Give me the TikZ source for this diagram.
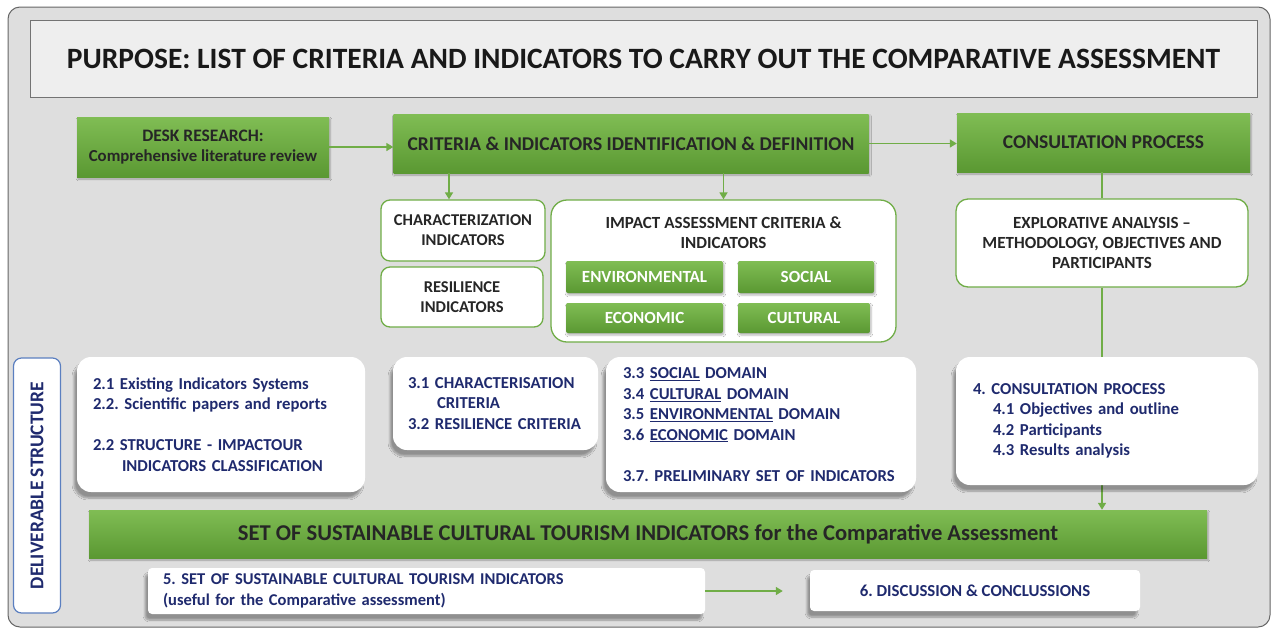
\documentclass[tikz,border=0pt]{standalone}
\usepackage{fontspec}
\setmainfont{Carlito}
\usetikzlibrary{arrows.meta,positioning,shadows,shadows.blur}
\definecolor{panelgray}{RGB}{222,222,222}
\definecolor{titlegray}{RGB}{238,238,238}
\definecolor{leafgreen}{RGB}{112,173,71}
\definecolor{greentop}{RGB}{128,189,84}
\definecolor{greenbot}{RGB}{90,152,50}
\definecolor{inkblue}{RGB}{31,42,110}
\definecolor{steelblue}{RGB}{91,127,192}
\frenchspacing

\begin{document}
\begin{tikzpicture}[
  x=1pt,y=-1pt,
  panel/.style={fill=panelgray,draw=black!60,line width=1pt,rounded corners=12pt},
  titlebox/.style={
    draw=black!55,
    fill=titlegray,
    line width=0.9pt,
    minimum width=1227pt,
    minimum height=77pt,
    text=black!90,
    font=\bfseries\fontsize{29.5}{34}\selectfont
  },
  greenbox/.style={
    top color=greentop,
    bottom color=greenbot,
    inner sep=0pt,
    align=center,
    text=black!85,
    font=\bfseries\fontsize{19.5}{23}\selectfont,
    blur shadow={shadow xshift=1pt,shadow yshift=-2pt,shadow blur steps=4,shadow opacity=30}
  },
  tagbox/.style={greenbox,rounded corners=2pt,text=white,font=\bfseries\fontsize{17}{20}\selectfont},
  framebox/.style={
    draw=leafgreen,
    fill=white,
    line width=1.3pt,
    rounded corners=9pt,
    inner sep=0pt,
    align=center,
    text=black!85,
    font=\bfseries\fontsize{16.5}{20}\selectfont
  },
  notebox/.style={
    fill=white,
    rounded corners=14pt,
    inner xsep=16pt,
    inner ysep=0pt,
    align=left,
    text=inkblue,
    font=\bfseries\fontsize{16.7}{20.5}\selectfont,
    blur shadow={shadow xshift=-3pt,shadow yshift=-6pt,shadow blur steps=8,shadow opacity=35}
  },
  flow/.style={-{Triangle[length=7pt,width=8pt]},line width=1.6pt,draw=leafgreen},
  tie/.style={line width=1.6pt,draw=leafgreen}
]
\fill[white] (0,0) rectangle (1274,630);
\useasboundingbox (0,0) rectangle (1274,630);
\draw[panel] (8,7) rectangle (1270,627);

\node[titlebox] (purpose) at (643.5,58.5)
  {PURPOSE: LIST OF CRITERIA AND INDICATORS TO CARRY OUT THE COMPARATIVE ASSESSMENT};

% top row of process steps
\node[greenbox,minimum width=252pt,minimum height=60pt,font=\bfseries\fontsize{17.5}{20}\selectfont] (desk) at (203,147)
  {DESK RESEARCH:\\{\fontsize{16.8}{20}\selectfont Comprehensive literature review}};
\node[greenbox,minimum width=475pt,minimum height=59pt] (crit) at (631,143.5)
  {CRITERIA \& INDICATORS IDENTIFICATION \& DEFINITION};
\node[greenbox,minimum width=293pt,minimum height=59pt] (consult) at (1103.5,142.5)
  {CONSULTATION PROCESS};
\draw[flow] (desk.east) -- (desk.east -| crit.west);
\draw[flow] (crit.east) -- (crit.east -| consult.west);

% indicator groups
\node[framebox,minimum width=164pt,minimum height=61pt] (charind) at (463,230.5)
  {CHARACTERIZATION\\INDICATORS};
\node[framebox,minimum width=162pt,minimum height=60pt] (resind) at (462,297)
  {RESILIENCE\\INDICATORS};
\node[framebox,rounded corners=16pt,minimum width=345pt,minimum height=142pt] (impact) at (723.5,271) {};
\node[align=center,text=black!85,font=\bfseries\fontsize{17}{20}\selectfont] (impacttitle)
  at (723.5,233) {IMPACT ASSESSMENT CRITERIA \&\\INDICATORS};
\node[tagbox,minimum width=157pt,minimum height=32pt] (env) at (644.5,277) {ENVIRONMENTAL};
\node[tagbox,minimum width=136pt,minimum height=32pt] (soc) at (806,277) {SOCIAL};
\node[tagbox,minimum width=157pt,minimum height=30pt] (eco) at (644.5,318) {ECONOMIC};
\node[tagbox,minimum width=132pt,minimum height=30pt] (cul) at (804,318) {CULTURAL};
\draw[flow] ([xshift=-14pt]charind.north |- crit.south) -- ([xshift=-14pt]charind.north);
\draw[flow] (impact.north |- crit.south) -- (impact.north);

\node[framebox,rounded corners=12pt,minimum width=292pt,minimum height=88pt,font=\bfseries\fontsize{17}{20}\selectfont] (explor) at (1102,243)
  {EXPLORATIVE ANALYSIS --\\METHODOLOGY, OBJECTIVES AND\\PARTICIPANTS};
\draw[tie] (explor.north |- consult.south) -- (explor.north);

% deliverable structure
\node[draw=steelblue,fill=white,line width=1.2pt,rounded corners=8pt,rotate=90,
  minimum width=255pt,minimum height=47pt,text=inkblue,
  font=\bfseries\fontsize{19.5}{22}\selectfont] (deliv) at (37,485.5) {DELIVERABLE STRUCTURE};

\node[notebox,text width=256pt,minimum height=135pt] (sec2) at (221,424.5)
  {2.1 Existing Indicators Systems\\
   2.2. Scientific papers and reports\\[20.5pt]
   2.2 STRUCTURE - IMPACTOUR\\
   \hspace*{29pt}INDICATORS CLASSIFICATION};
\node[notebox,inner xsep=15pt,text width=175pt,minimum height=93pt] (sec31) at (495.5,403.5)
  {3.1 CHARACTERISATION\\
   \hspace*{29pt}CRITERIA\\
   3.2 RESILIENCE CRITERIA};
\node[notebox,inner xsep=17pt,text width=276pt,minimum height=135pt] (sec33) at (761,424.5)
  {3.3 \underline{SOCIAL} DOMAIN\\
   3.4 \underline{CULTURAL} DOMAIN\\
   3.5 \underline{ENVIRONMENTAL} DOMAIN\\
   3.6 \underline{ECONOMIC} DOMAIN\\[20.5pt]
   3.7. PRELIMINARY SET OF INDICATORS};

\node[greenbox,minimum width=1118pt,minimum height=48pt,
  font=\bfseries\fontsize{22.6}{26}\selectfont] (bar) at (648,534)
  {SET OF SUSTAINABLE CULTURAL TOURISM INDICATORS for the Comparative Assessment};
\draw[flow] (explor.south) -- (explor.south |- bar.north);

\node[notebox,rounded corners=14pt,inner xsep=17pt,text width=268pt,minimum height=128pt] (sec4) at (1107,421)
  {4. CONSULTATION PROCESS\\
   \hspace*{20pt}4.1 Objectives and outline\\
   \hspace*{20pt}4.2 Participants\\
   \hspace*{20pt}4.3 Results analysis};

% final outputs
\node[notebox,rounded corners=4pt,inner xsep=15pt,text width=527pt,minimum height=46pt,
  font=\bfseries\fontsize{16.5}{20.5}\selectfont] (sust) at (426.5,591)
  {5. SET OF SUSTAINABLE CULTURAL TOURISM INDICATORS\\
   (useful for the Comparative assessment)};
\node[notebox,rounded corners=4pt,align=center,minimum width=330pt,minimum height=41pt,
  font=\bfseries\fontsize{16.8}{20}\selectfont] (concl) at (975,590.5)
  {6. DISCUSSION \& CONCLUSSIONS};
\draw[flow,shorten >=27pt] (sust.east) -- (sust.east -| concl.west);
\end{tikzpicture}
\end{document}
